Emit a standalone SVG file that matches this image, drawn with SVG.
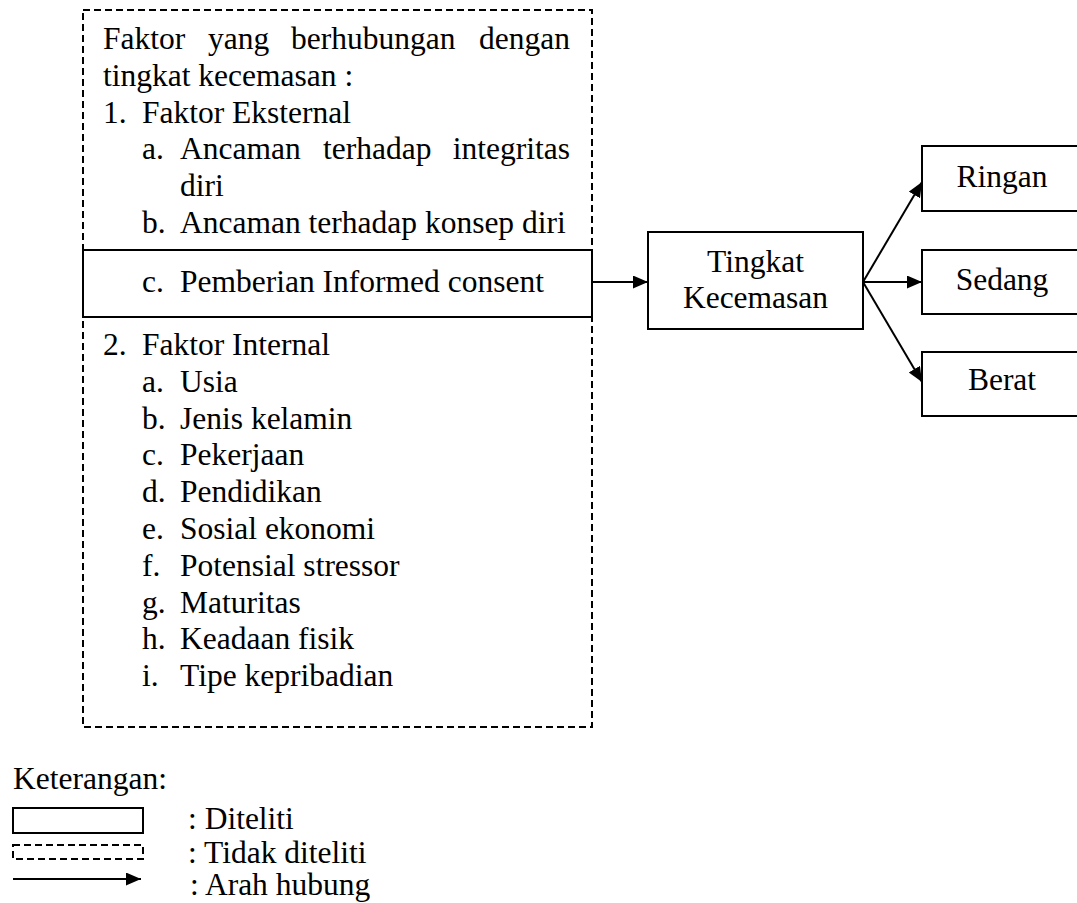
<svg xmlns="http://www.w3.org/2000/svg" width="1077" height="903" viewBox="0 0 1077 903">
<style>
text{font-family:"Liberation Serif","Times New Roman",serif;font-size:31.5px;fill:#000}
.solid{fill:#fff;stroke:#000;stroke-width:2}
.dash{fill:none;stroke:#000;stroke-width:2;stroke-dasharray:7 4}
.conn{stroke:#000;stroke-width:2;fill:none;marker-end:url(#arr)}
.mid{text-anchor:middle}
</style>
<defs>
<marker id="arr" markerUnits="userSpaceOnUse" markerWidth="16" markerHeight="14" refX="15" refY="6.5" orient="auto">
<path d="M0,0 L15,6.5 L0,13 Z" fill="#000"/>
</marker>
</defs>
<rect width="1077" height="903" fill="#fff"/>
<g id="faktor">
<rect class="dash" x="83" y="10" width="509" height="717"/>
<text x="103" y="49">Faktor</text>
<text x="208" y="49">yang</text>
<text x="291" y="49">berhubungan</text>
<text x="570" y="49" text-anchor="end">dengan</text>
<text x="103" y="86">tingkat kecemasan :</text>
<text x="103" y="122.6">1.</text><text x="142" y="122.6">Faktor Eksternal</text>
<text x="142" y="159.4">a.</text><text x="180" y="159.4">Ancaman</text>
<text x="323" y="159.4">terhadap</text>
<text x="570" y="159.4" text-anchor="end">integritas</text>
<text x="180" y="196.2">diri</text>
<text x="142" y="233">b.</text><text x="180" y="233">Ancaman terhadap konsep diri</text>
<text x="103" y="355">2.</text><text x="142" y="355">Faktor Internal</text>
<text x="142" y="391.8">a.</text><text x="180" y="391.8">Usia</text>
<text x="142" y="428.6">b.</text><text x="180" y="428.6">Jenis kelamin</text>
<text x="142" y="465.4">c.</text><text x="180" y="465.4">Pekerjaan</text>
<text x="142" y="502.2">d.</text><text x="180" y="502.2">Pendidikan</text>
<text x="142" y="539">e.</text><text x="180" y="539">Sosial ekonomi</text>
<text x="142" y="575.8">f.</text><text x="180" y="575.8">Potensial stressor</text>
<text x="142" y="612.6">g.</text><text x="180" y="612.6">Maturitas</text>
<text x="142" y="649.4">h.</text><text x="180" y="649.4">Keadaan fisik</text>
<text x="142" y="686.2">i.</text><text x="180" y="686.2">Tipe kepribadian</text>
</g>
<g id="informed">
<rect class="solid" x="83" y="250" width="509" height="67"/>
<text x="142" y="292">c.</text><text x="180" y="292">Pemberian Informed consent</text>
</g>
<g id="tingkat">
<rect class="solid" x="648" y="232" width="215" height="97"/>
<text class="mid" x="755.5" y="272">Tingkat</text>
<text class="mid" x="755.5" y="308">Kecemasan</text>
</g>
<g id="ringan">
<rect class="solid" x="922" y="146" width="170" height="65"/>
<text class="mid" x="1002" y="187">Ringan</text>
</g>
<g id="sedang">
<rect class="solid" x="922" y="250" width="170" height="64"/>
<text class="mid" x="1002" y="290">Sedang</text>
</g>
<g id="berat">
<rect class="solid" x="922" y="352" width="170" height="64"/>
<text class="mid" x="1002" y="390">Berat</text>
</g>
<g id="connectors">
<line class="conn" x1="592" y1="282" x2="648" y2="282"/>
<line class="conn" x1="863" y1="282" x2="922" y2="182"/>
<line class="conn" x1="863" y1="282" x2="922" y2="282"/>
<line class="conn" x1="863" y1="282" x2="922" y2="382"/>
</g>
<g id="legend">
<text x="13" y="789">Keterangan:</text>
<rect class="solid" x="13" y="808" width="130" height="25"/>
<rect class="dash" x="13" y="845" width="130" height="14"/>
<line class="conn" x1="13" y1="879" x2="141" y2="879"/>
<text x="188" y="829">: Diteliti</text>
<text x="188" y="863">: Tidak diteliti</text>
<text x="190" y="895">: Arah hubung</text>
</g>
</svg>
